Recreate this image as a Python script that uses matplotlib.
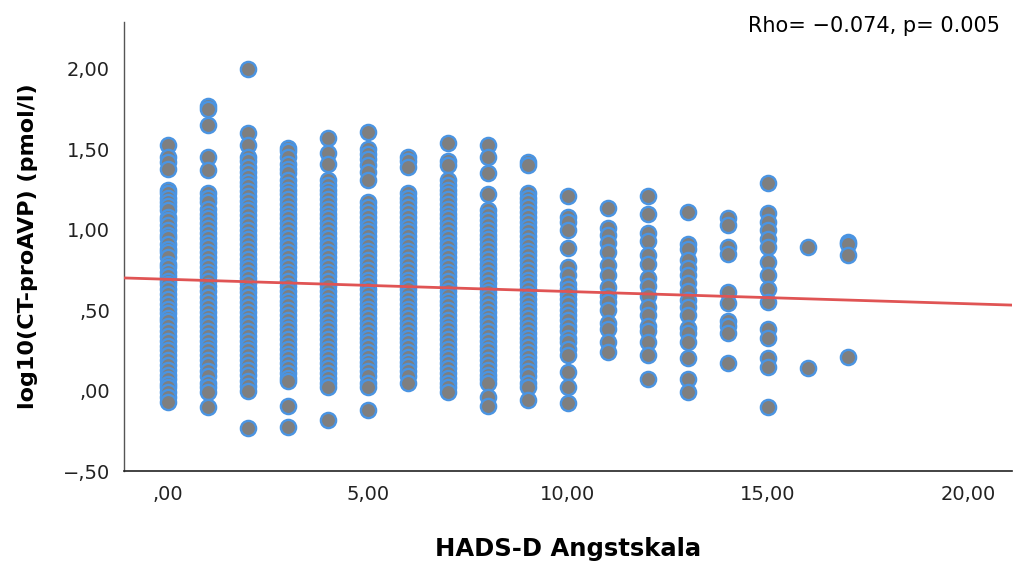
import numpy as np
import matplotlib.pyplot as plt
from matplotlib.ticker import FuncFormatter, FixedLocator

# HADS-D score (x) -> log10(CT-proAVP) values (y), read column by column
y0 = [1.53, 1.45, 1.42, 1.38, 1.25, 1.23, 1.20, 1.17, 1.15, 1.12, 1.08, 1.06, 1.03, 1.00, 0.97,
      0.95, 0.91, 0.88, 0.86, 0.83, 0.79, 0.77, 0.74, 0.71, 0.68, 0.66, 0.63, 0.60, 0.57, 0.54,
      0.51, 0.48, 0.45, 0.43, 0.40, 0.37, 0.34, 0.31, 0.28, 0.25, 0.22, 0.19, 0.16, 0.13, 0.10,
      0.07, 0.04, 0.02, -0.01, -0.04, -0.07]
y1 = [1.77, 1.75, 1.65, 1.45, 1.37, 1.23, 1.20, 1.17, 1.13, 1.10, 1.07, 1.04, 1.01, 0.98, 0.95,
      0.92, 0.89, 0.86, 0.83, 0.80, 0.77, 0.74, 0.71, 0.68, 0.65, 0.62, 0.58, 0.55, 0.52, 0.49,
      0.46, 0.43, 0.40, 0.37, 0.34, 0.31, 0.28, 0.25, 0.22, 0.19, 0.16, 0.12, 0.09, 0.05, 0.02,
      -0.01, -0.10]
y2 = [2.00, 1.60, 1.53, 1.45, 1.43, 1.39, 1.36, 1.33, 1.30, 1.27, 1.24, 1.21, 1.18, 1.15, 1.12,
      1.09, 1.06, 1.03, 1.00, 0.97, 0.94, 0.91, 0.88, 0.85, 0.82, 0.79, 0.76, 0.73, 0.70, 0.67,
      0.64, 0.61, 0.58, 0.55, 0.52, 0.49, 0.46, 0.43, 0.40, 0.37, 0.34, 0.31, 0.28, 0.25, 0.22,
      0.19, 0.16, 0.13, 0.10, 0.06, 0.03, 0.00, -0.23]
y3 = [1.51, 1.49, 1.45, 1.41, 1.38, 1.35, 1.31, 1.28, 1.25, 1.22, 1.19, 1.16, 1.13, 1.10, 1.07,
      1.04, 1.01, 0.98, 0.95, 0.92, 0.89, 0.86, 0.83, 0.80, 0.77, 0.74, 0.71, 0.68, 0.65, 0.62,
      0.59, 0.56, 0.53, 0.50, 0.47, 0.44, 0.41, 0.38, 0.35, 0.32, 0.29, 0.26, 0.23, 0.20, 0.17,
      0.14, 0.11, 0.08, 0.06, -0.095, -0.225]
y4 = [1.57, 1.48, 1.41, 1.31, 1.28, 1.25, 1.22, 1.19, 1.16, 1.13, 1.10, 1.07, 1.04, 1.01, 0.98,
      0.95, 0.92, 0.89, 0.86, 0.83, 0.80, 0.77, 0.74, 0.71, 0.68, 0.65, 0.62, 0.59, 0.56, 0.53,
      0.50, 0.47, 0.44, 0.41, 0.38, 0.35, 0.32, 0.29, 0.26, 0.23, 0.20, 0.17, 0.14, 0.11, 0.08,
      0.05, 0.02, -0.18]
y5 = [1.61, 1.50, 1.47, 1.44, 1.40, 1.36, 1.31, 1.17, 1.14, 1.11, 1.08, 1.05, 1.02, 0.99, 0.96,
      0.93, 0.90, 0.87, 0.84, 0.81, 0.78, 0.75, 0.72, 0.69, 0.66, 0.63, 0.60, 0.57, 0.54, 0.51,
      0.48, 0.45, 0.42, 0.39, 0.36, 0.33, 0.30, 0.27, 0.24, 0.21, 0.18, 0.15, 0.12, 0.09, 0.05,
      0.02, -0.12]
y6 = [1.45, 1.43, 1.39, 1.23, 1.20, 1.17, 1.14, 1.11, 1.08, 1.05, 1.02, 0.99, 0.96, 0.93, 0.90,
      0.87, 0.84, 0.81, 0.78, 0.75, 0.72, 0.69, 0.66, 0.63, 0.60, 0.57, 0.54, 0.51, 0.48, 0.45,
      0.42, 0.39, 0.36, 0.33, 0.30, 0.27, 0.24, 0.21, 0.18, 0.15, 0.12, 0.09, 0.05]
y7 = [1.54, 1.43, 1.40, 1.31, 1.28, 1.25, 1.22, 1.19, 1.16, 1.13, 1.10, 1.07, 1.04, 1.01, 0.98,
      0.95, 0.92, 0.89, 0.86, 0.83, 0.80, 0.77, 0.74, 0.71, 0.68, 0.65, 0.62, 0.59, 0.56, 0.53,
      0.50, 0.47, 0.44, 0.41, 0.38, 0.35, 0.32, 0.29, 0.26, 0.23, 0.20, 0.17, 0.14, 0.11, 0.08,
      0.05, 0.02, -0.01]
y8 = [1.53, 1.45, 1.35, 1.22, 1.12, 1.09, 1.06, 1.03, 1.00, 0.97, 0.94, 0.91, 0.88, 0.85, 0.82,
      0.79, 0.76, 0.73, 0.70, 0.67, 0.64, 0.61, 0.58, 0.55, 0.52, 0.49, 0.46, 0.43, 0.40, 0.37,
      0.34, 0.31, 0.28, 0.25, 0.22, 0.19, 0.16, 0.13, 0.10, 0.07, 0.05, -0.04, -0.095]
y9 = [1.42, 1.40, 1.23, 1.20, 1.17, 1.14, 1.11, 1.08, 1.05, 1.02, 0.99, 0.96, 0.93, 0.90, 0.87,
      0.84, 0.81, 0.78, 0.75, 0.72, 0.69, 0.66, 0.63, 0.60, 0.57, 0.54, 0.51, 0.48, 0.45, 0.42,
      0.39, 0.36, 0.33, 0.30, 0.27, 0.24, 0.21, 0.18, 0.15, 0.12, 0.09, 0.05, 0.02, -0.06]
y10 = [1.21, 1.08, 1.05, 1.00, 0.885, 0.77, 0.72, 0.66, 0.63, 0.60, 0.57, 0.54, 0.50, 0.47,
       0.44, 0.40, 0.37, 0.33, 0.30, 0.26, 0.22, 0.115, 0.02, -0.08]
y11 = [1.135, 1.01, 0.97, 0.92, 0.86, 0.78, 0.72, 0.645, 0.59, 0.55, 0.50, 0.42, 0.38, 0.30, 0.24]
y12 = [1.21, 1.10, 0.98, 0.93, 0.84, 0.79, 0.70, 0.65, 0.59, 0.52, 0.47, 0.40, 0.37, 0.30,
       0.22, 0.07]
y13 = [1.11, 0.91, 0.88, 0.81, 0.76, 0.72, 0.67, 0.62, 0.565, 0.52, 0.47, 0.39, 0.36, 0.30,
       0.20, 0.07, -0.01]
y14 = [1.07, 1.03, 0.895, 0.85, 0.61, 0.545, 0.435, 0.40, 0.36, 0.17]
y15 = [1.29, 1.105, 1.05, 1.00, 0.94, 0.89, 0.80, 0.72, 0.63, 0.55, 0.38, 0.33, 0.20, 0.145, -0.10]
y16 = [0.895, 0.14]
y17 = [0.925, 0.91, 0.84, 0.21]
columns = [y0, y1, y2, y3, y4, y5, y6, y7, y8, y9, y10, y11, y12, y13, y14, y15, y16, y17]

# fit line shown in the chart
fit_intercept = 0.692
fit_slope = -0.0076
stat_text = 'Rho= \u22120.074, p= 0.005'

xs = []
ys = []
for k, col in enumerate(columns):
    xs += [k] * len(col)
    ys += col


def spss_fmt(v, pos):
    s = '%.2f' % v
    s = s.replace('.', ',')
    if s.startswith('0,'):
        s = s[1:]
    elif s.startswith('-0,'):
        s = '\u2212' + s[2:]
    return s


fig = plt.figure(figsize=(10.13, 5.63), dpi=100)
ax = fig.add_axes([0.1224, 0.1634, 0.8766, 0.7976])

ax.scatter(xs, ys, s=120, c='#7f7f7f', edgecolors='#4a94e2', linewidths=1.7, zorder=2)

t = np.array([-1.1, 21.1])
ax.plot(t, fit_intercept + fit_slope * t, color='#e05454', lw=2, zorder=3)

ax.set_xlim(-1.1, 21.1)
ax.set_ylim(-0.5, 2.292)
ax.xaxis.set_major_locator(FixedLocator([0, 5, 10, 15, 20]))
ax.yaxis.set_major_locator(FixedLocator([-0.5, 0, 0.5, 1.0, 1.5, 2.0]))
ax.xaxis.set_major_formatter(FuncFormatter(spss_fmt))
ax.yaxis.set_major_formatter(FuncFormatter(spss_fmt))
ax.tick_params(length=0, labelsize=14, colors='#222222', pad=10)

for side in ['top', 'right']:
    ax.spines[side].set_visible(False)
ax.spines['left'].set_color('#555555')
ax.spines['bottom'].set_color('#222222')
ax.spines['left'].set_linewidth(1)
ax.spines['bottom'].set_linewidth(1.2)

ax.set_xlabel('HADS-D Angstskala', fontsize=17.5, fontweight='bold', labelpad=24)
ax.set_ylabel('log10(CT-proAVP) (pmol/l)', fontsize=16, fontweight='bold', labelpad=18)

fig.text(0.987, 0.954, stat_text, ha='right', va='center', fontsize=15)

fig.savefig('out.png')
